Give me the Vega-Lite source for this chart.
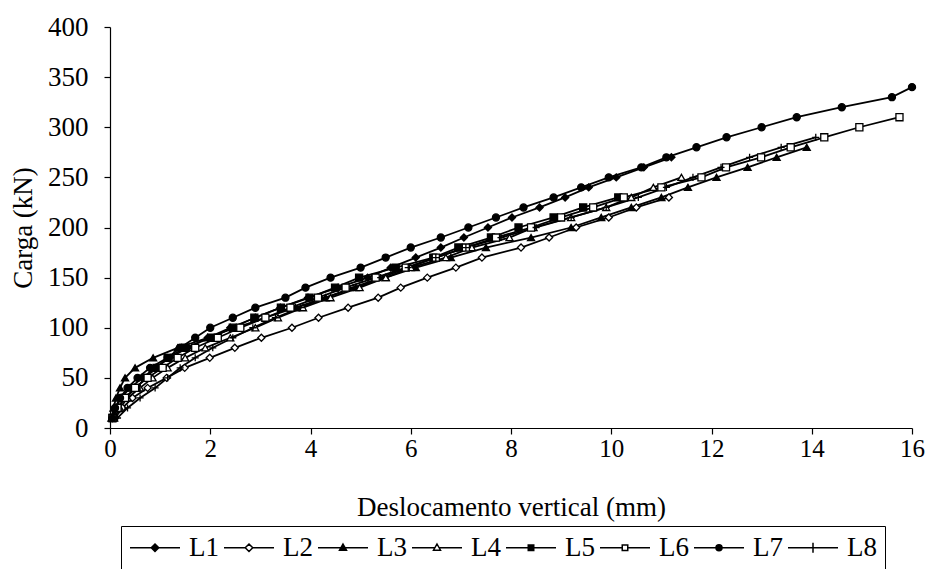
{
  "$schema": "https://vega.github.io/schema/vega-lite/v6.json",
  "width": 802,
  "height": 401,
  "autosize": "none",
  "padding": {"left": 110, "top": 27, "right": 13, "bottom": 141},
  "background": "white",
  "config": {
    "font": "Liberation Serif",
    "view": {"stroke": null},
    "axis": {"grid": false, "domainColor": "black", "tickColor": "black", "labelColor": "black", "titleColor": "black", "labelFont": "Liberation Serif", "titleFont": "Liberation Serif", "labelFontSize": 27, "titleFontSize": 27, "titleFontWeight": "normal", "tickSize": 6, "domainWidth": 1.2, "tickWidth": 1.2}
  },
  "data": {"values": [
    {"s":"L1","x":0.05,"y":10},{"s":"L1","x":0.12,"y":20},{"s":"L1","x":0.22,"y":30},{"s":"L1","x":0.4,"y":40},{"s":"L1","x":0.65,"y":50},{"s":"L1","x":0.9,"y":60},{"s":"L1","x":1.2,"y":70},{"s":"L1","x":1.55,"y":80},{"s":"L1","x":1.95,"y":90},{"s":"L1","x":2.4,"y":100},{"s":"L1","x":2.9,"y":110},{"s":"L1","x":3.4,"y":120},{"s":"L1","x":3.95,"y":130},{"s":"L1","x":4.55,"y":140},{"s":"L1","x":5.14,"y":150},{"s":"L1","x":5.6,"y":160},{"s":"L1","x":6.1,"y":170},{"s":"L1","x":6.6,"y":180},{"s":"L1","x":7.06,"y":190},{"s":"L1","x":7.54,"y":200},{"s":"L1","x":8.02,"y":210},{"s":"L1","x":8.57,"y":220},{"s":"L1","x":9.08,"y":230},{"s":"L1","x":9.55,"y":240},{"s":"L1","x":10.1,"y":250},{"s":"L1","x":10.65,"y":260},{"s":"L1","x":11.2,"y":270},
    {"s":"L2","x":0.1,"y":10},{"s":"L2","x":0.25,"y":20},{"s":"L2","x":0.45,"y":30},{"s":"L2","x":0.75,"y":40},{"s":"L2","x":1.13,"y":50},{"s":"L2","x":1.49,"y":60},{"s":"L2","x":1.99,"y":70},{"s":"L2","x":2.49,"y":80},{"s":"L2","x":3.02,"y":90},{"s":"L2","x":3.63,"y":100},{"s":"L2","x":4.16,"y":110},{"s":"L2","x":4.75,"y":120},{"s":"L2","x":5.35,"y":130},{"s":"L2","x":5.8,"y":140},{"s":"L2","x":6.33,"y":150},{"s":"L2","x":6.9,"y":160},{"s":"L2","x":7.42,"y":170},{"s":"L2","x":8.2,"y":180},{"s":"L2","x":8.76,"y":190},{"s":"L2","x":9.3,"y":200},{"s":"L2","x":9.95,"y":210},{"s":"L2","x":10.5,"y":220},{"s":"L2","x":11.15,"y":230},
    {"s":"L3","x":0.03,"y":10},{"s":"L3","x":0.07,"y":20},{"s":"L3","x":0.12,"y":30},{"s":"L3","x":0.2,"y":40},{"s":"L3","x":0.3,"y":50},{"s":"L3","x":0.5,"y":60},{"s":"L3","x":0.86,"y":70},{"s":"L3","x":1.35,"y":80},{"s":"L3","x":1.95,"y":90},{"s":"L3","x":2.5,"y":100},{"s":"L3","x":3.1,"y":110},{"s":"L3","x":3.7,"y":120},{"s":"L3","x":4.3,"y":130},{"s":"L3","x":4.9,"y":140},{"s":"L3","x":5.5,"y":150},{"s":"L3","x":6.1,"y":160},{"s":"L3","x":6.8,"y":170},{"s":"L3","x":7.5,"y":180},{"s":"L3","x":8.4,"y":190},{"s":"L3","x":9.2,"y":200},{"s":"L3","x":9.8,"y":210},{"s":"L3","x":10.4,"y":220},{"s":"L3","x":11.0,"y":230},{"s":"L3","x":11.53,"y":240},{"s":"L3","x":12.1,"y":250},{"s":"L3","x":12.72,"y":260},{"s":"L3","x":13.3,"y":270},{"s":"L3","x":13.9,"y":280},
    {"s":"L4","x":0.08,"y":10},{"s":"L4","x":0.2,"y":20},{"s":"L4","x":0.35,"y":30},{"s":"L4","x":0.6,"y":40},{"s":"L4","x":0.85,"y":50},{"s":"L4","x":1.15,"y":60},{"s":"L4","x":1.5,"y":70},{"s":"L4","x":1.9,"y":80},{"s":"L4","x":2.4,"y":90},{"s":"L4","x":2.9,"y":100},{"s":"L4","x":3.35,"y":110},{"s":"L4","x":3.85,"y":120},{"s":"L4","x":4.4,"y":130},{"s":"L4","x":4.98,"y":140},{"s":"L4","x":5.5,"y":150},{"s":"L4","x":6.0,"y":160},{"s":"L4","x":6.7,"y":170},{"s":"L4","x":7.22,"y":180},{"s":"L4","x":7.97,"y":190},{"s":"L4","x":8.45,"y":200},{"s":"L4","x":9.2,"y":210},{"s":"L4","x":9.9,"y":220},{"s":"L4","x":10.4,"y":230},{"s":"L4","x":10.84,"y":240},{"s":"L4","x":11.4,"y":250},
    {"s":"L5","x":0.05,"y":10},{"s":"L5","x":0.15,"y":20},{"s":"L5","x":0.3,"y":30},{"s":"L5","x":0.53,"y":40},{"s":"L5","x":0.7,"y":50},{"s":"L5","x":0.93,"y":60},{"s":"L5","x":1.15,"y":70},{"s":"L5","x":1.5,"y":80},{"s":"L5","x":2.02,"y":90},{"s":"L5","x":2.45,"y":100},{"s":"L5","x":2.88,"y":110},{"s":"L5","x":3.41,"y":120},{"s":"L5","x":3.98,"y":130},{"s":"L5","x":4.49,"y":140},{"s":"L5","x":4.97,"y":150},{"s":"L5","x":5.7,"y":160},{"s":"L5","x":6.45,"y":170},{"s":"L5","x":6.95,"y":180},{"s":"L5","x":7.6,"y":190},{"s":"L5","x":8.15,"y":200},{"s":"L5","x":8.85,"y":210},{"s":"L5","x":9.44,"y":220},{"s":"L5","x":10.14,"y":230},
    {"s":"L6","x":0.05,"y":10},{"s":"L6","x":0.15,"y":20},{"s":"L6","x":0.3,"y":30},{"s":"L6","x":0.5,"y":40},{"s":"L6","x":0.75,"y":50},{"s":"L6","x":1.05,"y":60},{"s":"L6","x":1.35,"y":70},{"s":"L6","x":1.7,"y":80},{"s":"L6","x":2.15,"y":90},{"s":"L6","x":2.6,"y":100},{"s":"L6","x":3.1,"y":110},{"s":"L6","x":3.6,"y":120},{"s":"L6","x":4.15,"y":130},{"s":"L6","x":4.7,"y":140},{"s":"L6","x":5.3,"y":150},{"s":"L6","x":5.9,"y":160},{"s":"L6","x":6.5,"y":170},{"s":"L6","x":7.1,"y":180},{"s":"L6","x":7.7,"y":190},{"s":"L6","x":8.4,"y":200},{"s":"L6","x":9.0,"y":210},{"s":"L6","x":9.64,"y":220},{"s":"L6","x":10.25,"y":230},{"s":"L6","x":11.0,"y":240},{"s":"L6","x":11.8,"y":250},{"s":"L6","x":12.29,"y":260},{"s":"L6","x":12.99,"y":270},{"s":"L6","x":13.58,"y":280},{"s":"L6","x":14.25,"y":290},{"s":"L6","x":14.95,"y":300},{"s":"L6","x":15.75,"y":310},
    {"s":"L7","x":0.05,"y":10},{"s":"L7","x":0.1,"y":20},{"s":"L7","x":0.2,"y":30},{"s":"L7","x":0.35,"y":40},{"s":"L7","x":0.55,"y":50},{"s":"L7","x":0.8,"y":60},{"s":"L7","x":1.15,"y":70},{"s":"L7","x":1.4,"y":80},{"s":"L7","x":1.7,"y":90},{"s":"L7","x":2.0,"y":100},{"s":"L7","x":2.45,"y":110},{"s":"L7","x":2.9,"y":120},{"s":"L7","x":3.5,"y":130},{"s":"L7","x":3.9,"y":140},{"s":"L7","x":4.4,"y":150},{"s":"L7","x":5.0,"y":160},{"s":"L7","x":5.5,"y":170},{"s":"L7","x":6.0,"y":180},{"s":"L7","x":6.6,"y":190},{"s":"L7","x":7.15,"y":200},{"s":"L7","x":7.7,"y":210},{"s":"L7","x":8.25,"y":220},{"s":"L7","x":8.85,"y":230},{"s":"L7","x":9.4,"y":240},{"s":"L7","x":9.95,"y":250},{"s":"L7","x":10.6,"y":260},{"s":"L7","x":11.1,"y":270},{"s":"L7","x":11.7,"y":280},{"s":"L7","x":12.3,"y":290},{"s":"L7","x":13.0,"y":300},{"s":"L7","x":13.7,"y":310},{"s":"L7","x":14.6,"y":320},{"s":"L7","x":15.6,"y":330},{"s":"L7","x":16.0,"y":340},
    {"s":"L8","x":0.15,"y":10},{"s":"L8","x":0.35,"y":20},{"s":"L8","x":0.6,"y":30},{"s":"L8","x":0.9,"y":40},{"s":"L8","x":1.15,"y":50},{"s":"L8","x":1.4,"y":60},{"s":"L8","x":1.7,"y":70},{"s":"L8","x":2.05,"y":80},{"s":"L8","x":2.45,"y":90},{"s":"L8","x":2.85,"y":100},{"s":"L8","x":3.3,"y":110},{"s":"L8","x":3.8,"y":120},{"s":"L8","x":4.3,"y":130},{"s":"L8","x":4.85,"y":140},{"s":"L8","x":5.4,"y":150},{"s":"L8","x":5.95,"y":160},{"s":"L8","x":6.5,"y":170},{"s":"L8","x":7.1,"y":180},{"s":"L8","x":7.8,"y":190},{"s":"L8","x":8.5,"y":200},{"s":"L8","x":9.2,"y":210},{"s":"L8","x":9.9,"y":220},{"s":"L8","x":10.54,"y":230},{"s":"L8","x":11.1,"y":240},{"s":"L8","x":11.63,"y":250},{"s":"L8","x":12.19,"y":260},{"s":"L8","x":12.76,"y":270},{"s":"L8","x":13.39,"y":280},{"s":"L8","x":14.08,"y":290}
  ]},
  "encoding": {
    "x": {"field": "x", "type": "quantitative", "scale": {"domain": [0, 16], "nice": false, "zero": false}, "axis": {"values": [0,2,4,6,8,10,12,14,16], "title": "Deslocamento vertical (mm)", "labelPadding": 2, "titlePadding": 33, "labelFlush": false, "labelFontSize": 25}},
    "y": {"field": "y", "type": "quantitative", "scale": {"domain": [0, 400], "nice": false}, "axis": {"values": [0,50,100,150,200,250,300,350,400], "title": "Carga (kN)", "labelPadding": 16, "titlePadding": 10}}
  },
  "layer": [
    {"mark": {"type": "line", "color": "black", "strokeWidth": 1.8}, "encoding": {"detail": {"field": "s"}}},
    {"mark": {"type": "point", "filled": true, "stroke": "black", "strokeWidth": 1.3, "size": 50, "opacity": 1},
     "encoding": {
       "shape": {"field": "s", "type": "nominal", "legend": null, "scale": {"domain": ["L1","L2","L3","L4","L5","L6","L7","L8"], "range": ["diamond","diamond","triangle-up","triangle-up","square","square","circle","M-1,0H1M0,-1V1"]}},
       "fill": {"field": "s", "type": "nominal", "legend": null, "scale": {"domain": ["L1","L2","L3","L4","L5","L6","L7","L8"], "range": ["black","white","black","white","black","white","black","black"]}}
     }},
    {"mark": {"type": "point", "filled": true, "stroke": "black", "strokeWidth": 1.5, "size": 625, "opacity": 0},
     "transform": [{"filter": "datum.y == 10"}],
     "encoding": {
       "shape": {"field": "s", "type": "nominal", "scale": {"domain": ["L1","L2","L3","L4","L5","L6","L7","L8"], "range": [
         "M-2,0H2M0,-0.3L0.3,0L0,0.3L-0.3,0Z",
         "M-2,0H-0.3M0.3,0H2M0,-0.3L0.3,0L0,0.3L-0.3,0Z",
         "M-2,0H2M0,-0.3L0.28,0.2L-0.28,0.2Z",
         "M-2,0H-0.17M0.17,0H2M0,-0.3L0.28,0.2L-0.28,0.2Z",
         "M-2,0H2M-0.22,-0.22H0.22V0.22H-0.22Z",
         "M-2,0H-0.22M0.22,0H2M-0.22,-0.22H0.22V0.22H-0.22Z",
         "M-2,0H2M-0.24,0A0.24,0.24,0,1,0,0.24,0A0.24,0.24,0,1,0,-0.24,0Z",
         "M-2,0H2M0,-0.4V0.4"]},
         "legend": {"title": null, "orient": "none", "legendX": 11, "legendY": 499, "direction": "horizontal", "strokeColor": "black", "padding": 8, "fillColor": "white",
           "labelFont": "Liberation Serif", "labelFontSize": 27, "labelColor": "black", "symbolSize": 625, "symbolOffset": 12.5, "labelOffset": 20.5, "columnPadding": 2, "symbolOpacity": 1, "symbolStrokeWidth": 1.5}},
       "fill": {"field": "s", "type": "nominal", "scale": {"domain": ["L1","L2","L3","L4","L5","L6","L7","L8"], "range": ["black","white","black","white","black","white","black","black"]}}
     }}
  ],
  "resolve": {"scale": {"shape": "independent", "fill": "independent"}}
}
